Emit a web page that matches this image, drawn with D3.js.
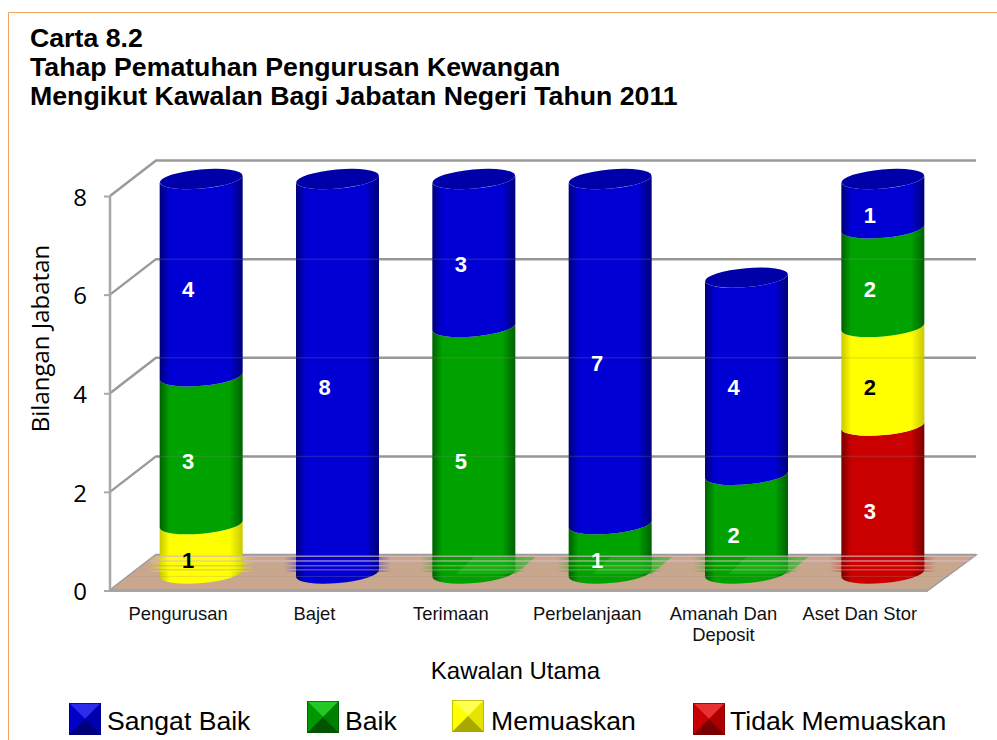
<!DOCTYPE html>
<html><head><meta charset="utf-8">
<script src="https://cdn.jsdelivr.net/npm/d3@7"></script>
<style>html,body{margin:0;padding:0;background:#fff}svg{display:block}</style>
</head><body><div id="c"></div>
<script>
const categories = ["Pengurusan","Bajet","Terimaan","Perbelanjaan","Amanah Dan|Deposit","Aset Dan Stor"];
const seriesNames = ["Tidak Memuaskan","Memuaskan","Baik","Sangat Baik"];
const tidakMemuaskan = [0,0,0,0,0,3];
const memuaskan = [1,0,0,0,0,2];
const baik = [3,0,5,1,2,2];
const sangatBaik = [4,8,3,7,4,1];
const yTicks = [0,2,4,6,8];
const titleLines = ["Carta 8.2","Tahap Pematuhan Pengurusan Kewangan","Mengikut Kawalan Bagi Jabatan Negeri Tahun 2011"];
const seriesValues = [tidakMemuaskan,memuaskan,baik,sangatBaik];
const palette = {
  "Sangat Baik":{edge:"#000078",mid:"#0000d4",lab:"#fff",hi:"#2c2cec",lo:"#0000ac",d:"#00007c",c:"#0000c8",top:"#0000a8"},
  "Baik":{edge:"#006000",mid:"#00a200",lab:"#fff",hi:"#24c824",lo:"#008000",d:"#005400",c:"#009800",top:"#008000"},
  "Memuaskan":{edge:"#c8c800",mid:"#ffff00",lab:"#000",hi:"#ffff50",lo:"#e4e400",d:"#a8a800",c:"#ffff00",top:"#d0d000"},
  "Tidak Memuaskan":{edge:"#780000",mid:"#ca0000",lab:"#fff",hi:"#e83030",lo:"#ac0000",d:"#780000",c:"#c80000",top:"#a00000"}
};
const W=997,H=740;
const svg=d3.select("#c").append("svg").attr("width",W).attr("height",H);
const defs=svg.append("defs");
seriesNames.forEach((s,i)=>{
  const g=defs.append("linearGradient").attr("id","g"+i);
  [[0,palette[s].edge],[.12,palette[s].mid],[.84,palette[s].mid],[1,palette[s].edge]]
    .forEach(p=>g.append("stop").attr("offset",p[0]).attr("stop-color",p[1]));
  const h=defs.append("linearGradient").attr("id","h"+i);
  [[0,0],[.2,.55],[.8,.55],[1,0]].forEach(p=>h.append("stop").attr("offset",p[0]).attr("stop-color",palette[s].mid).attr("stop-opacity",p[1]));
});
svg.append("path").attr("d","M8.5 740V12.5H997").attr("fill","none").attr("stroke","#f0a35e").attr("stroke-width",1);
svg.append("g").selectAll("text").data(titleLines).join("text")
  .attr("x",30).attr("y",(d,i)=>47+i*29).text(d=>d)
  .attr("font-family","Liberation Sans").attr("font-weight","bold").attr("font-size",26.7).attr("fill","#000");

const depthX=46, depthY=-35.5;
const x=d3.scaleBand().domain(categories).range([110,928]);
const y=d3.scaleLinear().domain([0,8]).range([590.5,196]);
const backY=v=>y(v)+depthY;

const grid=svg.append("g");
yTicks.forEach(t=>{
  grid.append("path").attr("d",`M110 ${y(t)}L${110+depthX} ${backY(t)}H976`).attr("fill","none").attr("stroke","#9a9a9a").attr("stroke-width",2.5);
});
grid.append("path").attr("d",`M110 ${y(0)}V${y(8)}`).attr("stroke","#a8a8a8").attr("stroke-width",2.5);
const floorBack=y(0)+depthY;
svg.append("path").attr("d",`M110 ${y(0)}L156 ${floorBack}H976L928 ${y(0)}Z`).attr("fill","#c8a78e");
svg.append("path").attr("d",`M110 ${y(0)}H928`).attr("stroke","#a4a4a4").attr("stroke-width",3);
svg.append("path").attr("d",`M928 ${y(0)}L976 ${floorBack}H156`).attr("stroke","#9a9a9a").attr("fill","none").attr("stroke-width",1.5);

const yAxis=d3.axisLeft(y).tickValues(yTicks).tickSize(6).tickPadding(17);
const ax=svg.append("g").attr("transform","translate(110,0)").call(yAxis);
ax.select(".domain").remove();
ax.selectAll("line").attr("stroke","#a8a8a8").attr("stroke-width",2);
ax.selectAll("text").attr("font-family","Open Sans").attr("font-size",24).attr("fill","#000").attr("transform","translate(0,1.5)");

const cylOffset=23, rx=41.5, ry=9.5, rot=-5;
const yBase=v=>583-(y(0)-y(v));
const dyEdge=rx*Math.sin(rot*Math.PI/180);
function seg(c,a,b){
  const l=c-rx,r=c+rx,ya=yBase(a)-ry,yb=yBase(b)-ry;
  return `M${l} ${ya-dyEdge}A${rx} ${ry} ${rot} 0 0 ${r} ${ya+dyEdge}L${r} ${yb+dyEdge}A${rx} ${ry} ${rot} 0 1 ${l} ${yb-dyEdge}Z`;
}
const cols=svg.append("g");
const smear=svg.append("g");
categories.forEach((cat,ci)=>{
  const cx=x(cat)+x.bandwidth()/2+cylOffset;
  let acc=0,topIdx=-1,baseIdx=-1;
  seriesNames.forEach((s,si)=>{
    const v=seriesValues[si][ci];
    if(!v)return;
    if(baseIdx<0)baseIdx=si;
    cols.append("path").attr("d",seg(cx,acc,acc+v)).attr("fill",`url(#g${si})`);
    acc+=v;topIdx=si;
  });
  cols.append("ellipse").attr("cx",cx).attr("cy",yBase(acc)-ry).attr("rx",rx).attr("ry",ry)
    .attr("transform",`rotate(${rot} ${cx} ${yBase(acc)-ry})`).attr("fill",palette[seriesNames[topIdx]].top);
  [[557,3],[562,3],[566,3],[570,2]].forEach(b=>
    smear.append("rect").attr("x",cx-rx-12).attr("y",b[0]).attr("width",2*rx+24).attr("height",b[1]).attr("fill",`url(#h${baseIdx})`));
  if(seriesNames[baseIdx]==="Baik"&&ci>1)
    smear.append("path").attr("d",`M${cx} 557H${cx+rx+20}L${cx+rx} 574H${cx-18}Z`).attr("fill","#22b822").attr("opacity",.6);
});
const over=svg.append("g");
[2,4,6].forEach(t=>over.append("path").attr("d",`M156 ${backY(t)}H976`).attr("stroke","#8a8a8a").attr("stroke-opacity",.22).attr("stroke-width",1.5));
const streaks=[[555.5,1.5,.7,"#d8b8c0"],[560,2,.5,"#d8c0c8"],[565,1.5,.55,"#c8a78e"],[569,1.5,.45,"#c8a78e"],[576,1,.25,"#a89080"]];
streaks.forEach(sd=>over.append("rect").attr("x",156-((sd[0]-555)*1.27)).attr("y",sd[0]).attr("width",820).attr("height",sd[1]).attr("fill",sd[3]).attr("opacity",sd[2]));

const labels=svg.append("g").attr("font-family","Liberation Sans").attr("font-weight","bold").attr("font-size",22).attr("text-anchor","middle");
categories.forEach((cat,ci)=>{
  const lx=x(cat)+x.bandwidth()/2+10;
  let acc=0;
  seriesNames.forEach((s,si)=>{
    const v=seriesValues[si][ci];
    if(!v)return;
    labels.append("text").attr("x",lx).attr("y",yBase(acc+v/2)+9.5).attr("fill",palette[s].lab).text(v);
    acc+=v;
  });
});
const catG=svg.append("g").attr("font-family","Liberation Sans").attr("font-size",18.4).attr("fill","#111").attr("text-anchor","middle");
categories.forEach(cat=>{
  cat.split("|").forEach((t,i)=>catG.append("text").attr("x",x(cat)+x.bandwidth()/2).attr("y",620+i*21).text(t));
});
svg.append("text").attr("x",515.5).attr("y",679).attr("text-anchor","middle").attr("font-family","Liberation Sans").attr("font-size",24).attr("fill","#000").text("Kawalan Utama");
svg.append("text").attr("transform","translate(49,338.5) rotate(-90)").attr("text-anchor","middle").attr("font-family","Open Sans").attr("font-size",24).attr("fill","#000").text("Bilangan Jabatan");
const legendItems=[["Sangat Baik",69,703,107],["Baik",307,701,345],["Memuaskan",452,700,491],["Tidak Memuaskan",693,703,730]];
const S=32;
legendItems.forEach(([name,kx,ky,tx])=>{
  const p=palette[name],g=svg.append("g").attr("transform",`translate(${kx},${ky})`);
  const m=S/2;
  g.append("rect").attr("width",S).attr("height",S).attr("fill",p.c);
  g.append("path").attr("d",`M0 0H${S}L${m} ${m}Z`).attr("fill",p.hi);
  g.append("path").attr("d",`M0 0V${S}L${m} ${m}Z`).attr("fill",p.c);
  g.append("path").attr("d",`M${S} 0V${S}L${m} ${m}Z`).attr("fill",p.lo);
  g.append("path").attr("d",`M0 ${S}H${S}L${m} ${m}Z`).attr("fill",p.d);
  g.append("rect").attr("x",.5).attr("y",.5).attr("width",S-1).attr("height",S-1).attr("fill","none").attr("stroke",p.d).attr("stroke-opacity",.7);
  svg.append("text").attr("x",tx).attr("y",730).attr("font-family","Liberation Sans").attr("font-size",26.6).attr("fill","#000").text(name);
});
</script></body></html>
